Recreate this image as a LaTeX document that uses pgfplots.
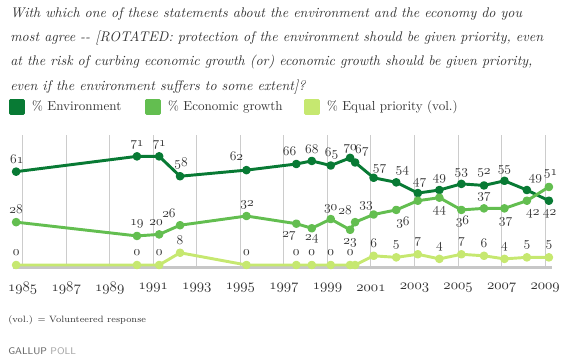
\documentclass[border=0pt]{standalone}
\usepackage{pgfplots}
\pgfplotsset{compat=1.18}
\usepackage{pgfplotstable}
\definecolor{envc}{RGB}{8,122,52}
\definecolor{ecoc}{RGB}{99,190,80}
\definecolor{eqc}{RGB}{198,232,112}
\definecolor{txt}{RGB}{51,51,51}
\newcommand\osn[1]{{\usefont{OML}{lmm}{m}{it}#1}}

\pgfplotstableread{
x v dx dy op
1984.70 61 0.5 9.3 1
1990.25 71 0 8.6 1
1991.27 71 0 8.6 1
1992.23 58 0.7 9.5 1
1995.28 62 -7.5 10.5 1
1997.57 66 -5 9.5 1
1998.28 68 0 9 1
1999.15 65 0.7 9.3 1
2000.04 70 0 6.8 1
2000.27 67 5 9 1
2001.12 57 4.5 7 1
2002.16 54 4.5 8.3 1
2003.15 47 1.3 7.5 1
2004.14 49 0 8 1
2005.15 53 0 8.5 1
2006.19 52 0 9.3 1
2007.13 55 0 8.5 1
2008.16 49 6.3 8 1
2009.17 42 0.5 -10.2 1
}\envtab

\pgfplotstableread{
x v dx dy op
1984.70 28 0 9.8 1
1990.25 19 0 9 1
1991.27 20 -2.3 9 1
1992.23 26 -8.3 9 1
1995.28 32 0.5 8.3 1
1997.57 27 -5.5 -9.5 1
1998.28 24 0 -8.3 1
1999.15 30 0 7.3 1
2000.04 23 0 -9.5 1
2000.27 28 -7.5 9.3 1
2001.12 33 -5.7 6.8 1
2002.16 36 5 -9.5 1
2003.15 42 0 0 0
2004.14 44 0 -9.8 1
2005.15 36 0.8 -8.8 1
2006.19 37 0 8.3 1
2007.13 37 0.8 -10 1
2008.16 42 4.5 -10.2 1
2009.17 51 1.3 9.8 1
}\ecotab

\pgfplotstableread{
x v dx dy op
1984.70 0 0 9.2 1
1990.25 0 0 9.2 1
1991.27 0 0 9.2 1
1992.23 8 0 9.7 1
1995.28 0 0 9.2 1
1997.57 0 0 9.2 1
1998.28 0 0 9.2 1
1999.15 0 0 9.2 1
2000.04 0 0 9.2 1
2000.27 0 0 0 0
2001.12 6 0 9.7 1
2002.16 5 0 9.2 1
2003.15 7 0 9.2 1
2004.14 4 0 9.2 1
2005.15 7 0 9.2 1
2006.19 6 0 9.2 1
2007.13 4 0 9.2 1
2008.16 5 0 9.2 1
2009.17 5 0 9.2 1
}\eqtab

\pgfplotsset{
  sqleg/.style={legend image code/.code={\fill[#1] (0pt,-4.875pt) rectangle (9.75pt,4.875pt);}},
  lbl/.style={draw=none, mark=none, forget plot, point meta=y,
    nodes near coords={\osn{\pgfmathprintnumber[assume math mode=true]{\pgfplotspointmeta}}},
    visualization depends on={\thisrow{dx} \as \dx},
    visualization depends on={\thisrow{dy} \as \dy},
    visualization depends on={\thisrow{op} \as \op},
    every node near coord/.style={anchor=center, xshift=\dx pt, yshift=\dy pt, opacity=\op,
      text=txt, font=\fontsize{10}{11}\selectfont, inner sep=0pt}},
  ser/.style={#1, line width=2.2pt, line join=round, mark=*, mark size=2.1pt, mark options={solid, fill=#1}, sqleg=#1},
}

\begin{document}
\begin{tikzpicture}[x=0.75pt,y=0.75pt]
\path (0,0) rectangle (569,364);
\begin{scope}[every node/.style={anchor=base west, inner sep=0pt, text=txt, font=\fontsize{10.5}{12}\selectfont\itshape}]
\node at (10,346.7) {With which one of these statements about the environment and the economy do you};
\node at (10,322.3) {most agree -{}- [ROTATED: protection of the environment should be given priority, even};
\node at (10,298) {at the risk of curbing economic growth (or) economic growth should be given priority,};
\node at (10,273.3) {even if the environment suffers to some extent]?};
\end{scope}
\node[anchor=base west, inner sep=0pt, text=txt, font=\fontsize{6.9}{8}\selectfont] at (8,41) {(vol.) = Volunteered response};
\node[anchor=base west, inner sep=0pt, font=\fontsize{7.3}{8}\selectfont\sffamily] at (8,9) {\textcolor{black!60}{GALLUP} \textcolor{black!35}{POLL}};

\begin{axis}[
  at={(9.975pt,72.41pt)}, anchor=south west,
  scale only axis, width=403.8pt, height=99.4pt,
  xmin=1984.57, xmax=2009.3, ymin=-1.6, ymax=85,
  axis x line=bottom, axis y line=none,
  x axis line style={draw=black!22, line width=1.9pt, -},
  xtick={1985,1987,...,2009},
  xticklabels={\osn{1985},\osn{1987},\osn{1989},\osn{1991},\osn{1993},\osn{1995},\osn{1997},\osn{1999},\osn{2001},\osn{2003},\osn{2005},\osn{2007},\osn{2009}},
  major tick length=0pt,
  xmajorgrids, grid style={black!20, line width=0.75pt},
  ytick=\empty,
  xticklabel style={font=\fontsize{10.5}{11}\selectfont, text=txt, anchor=center, yshift=-15.4pt},
  clip=false,
  legend columns=3,
  legend cell align=left,
  legend style={at={(-0.008,1.211)}, anchor=west, draw=none, fill=none, inner sep=0pt,
    font=\fontsize{9.8}{11}\selectfont, text=txt, nodes={inner sep=0pt},
    /tikz/every odd column/.append style={column sep=5.25pt}},
]
\addplot[ser=envc] table[x=x,y=v]{\envtab};
\addlegendentry{\makebox[84.75pt][l]{\% Environment}}
\addplot[ser=ecoc] table[x=x,y=v]{\ecotab};
\addlegendentry{\makebox[102pt][l]{\% Economic growth}}
\addplot[ser=eqc] table[x=x,y=v]{\eqtab};
\addlegendentry{\% Equal priority (vol.)}
\addplot[lbl] table[x=x,y=v]{\envtab};
\addplot[lbl] table[x=x,y=v]{\ecotab};
\addplot[lbl] table[x=x,y=v]{\eqtab};
\end{axis}
\end{tikzpicture}
\end{document}
